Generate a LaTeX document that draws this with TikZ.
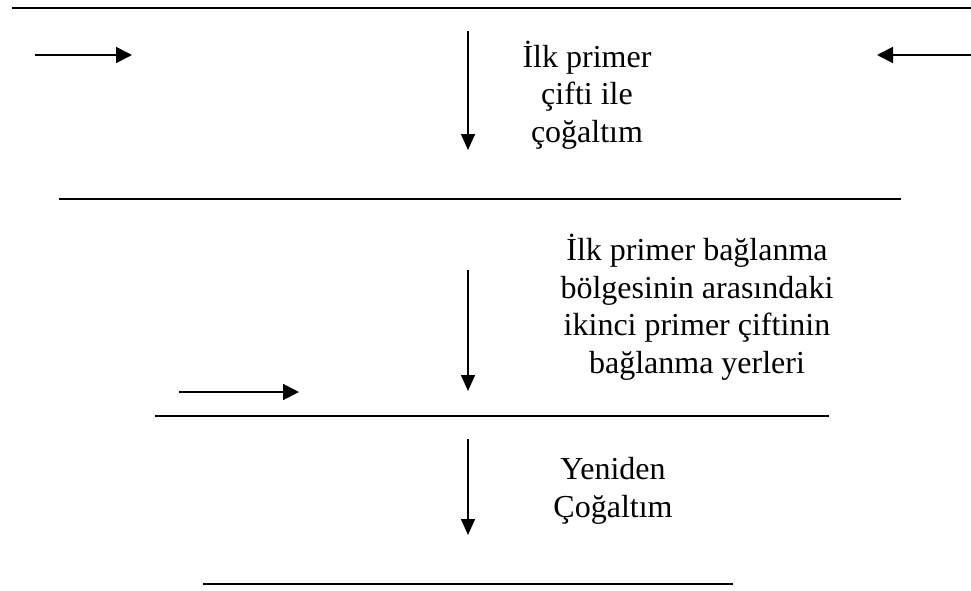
\documentclass[tikz,border=0pt]{standalone}
\usepackage{fontspec}
\setmainfont{Liberation Serif}
\usetikzlibrary{arrows.meta}

\begin{document}
\begin{tikzpicture}[x=1pt, y=-1pt,
        strand/.style={line width=2pt},
        primer/.style={line width=1.8pt, -{Triangle[length=16pt, width=16pt]}},
        flow/.style={line width=1.5pt, -{Triangle[length=16pt, width=14pt]}},
        note/.style={align=center, inner sep=0pt, font=\fontsize{32}{37.5}\selectfont}]
        \useasboundingbox (0,0) rectangle (971,590);
        
        % DNA strands
        \draw[strand] (12,7.5) -- (971,7.5);
        \draw[strand] (59,199) -- (901,199);
        \draw[strand] (155,416) -- (829,416);
        \draw[strand] (203,584) -- (733,584);
        
        % primers
        \coordinate (fwdA) at (35,55);
        \coordinate (fwdB) at (132,55);
        \coordinate (revA) at (971,55);
        \coordinate (revB) at (877,55);
        \coordinate (nestA) at (179,392);
        \coordinate (nestB) at (299,392);
        \draw[primer] (fwdA) -- (fwdB);
        \draw[primer] (revA) -- (revB);
        \draw[primer] (nestA) -- (nestB);
        
        % steps
        \coordinate (stepA1) at (468,31);
        \coordinate (stepA2) at (468,150);
        \coordinate (stepB1) at (468,270);
        \coordinate (stepB2) at (468,391);
        \coordinate (stepC1) at (468,439);
        \coordinate (stepC2) at (468,535);
        \draw[flow] (stepA1) -- (stepA2);
        \draw[flow] (stepB1) -- (stepB2);
        \draw[flow] (stepC1) -- (stepC2);
        
        % base = baseline of the last line
        \node[note, anchor=base] (firstpcr) at (587,142) {İlk primer\\çifti ile\\çoğaltım};
        \node[note, anchor=base] (nested) at (697,373) {İlk primer bağlanma\\bölgesinin arasındaki\\ikinci primer çiftinin\\bağlanma yerleri};
        \node[note, anchor=base] (secondpcr) at (613,517) {Yeniden\\Çoğaltım};
    \end{tikzpicture}
\end{document}
